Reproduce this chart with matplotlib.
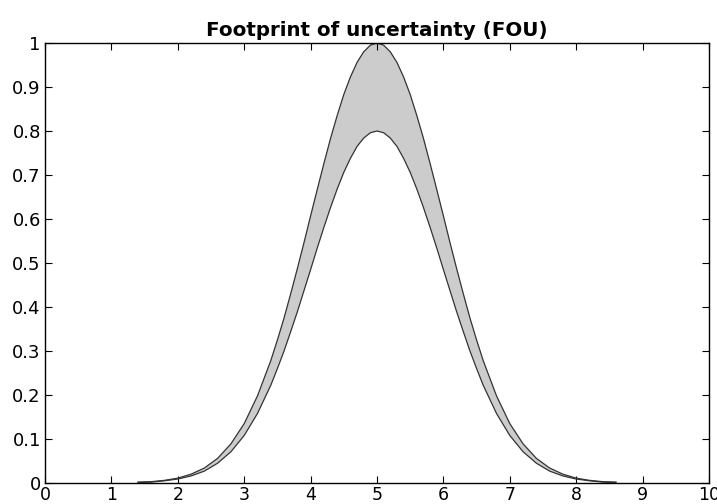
import matplotlib
matplotlib.use("Agg")
import matplotlib.pyplot as plt

plt.rcParams['font.family'] = ['DejaVu Sans']

# values (denser near the peak)
x = [1.4, 1.6, 1.8, 2.0, 2.2, 2.4, 2.6, 2.8, 3.0, 3.2, 3.4,
     3.5, 3.6, 3.7, 3.8, 3.9, 4.0, 4.1, 4.2, 4.3, 4.4, 4.5, 4.6, 4.7, 4.8, 4.9,
     5.0,
     5.1, 5.2, 5.3, 5.4, 5.5, 5.6, 5.7, 5.8, 5.9, 6.0, 6.1, 6.2, 6.3, 6.4, 6.5,
     6.6, 6.8, 7.0, 7.2, 7.4, 7.6, 7.8, 8.0, 8.2, 8.4, 8.6]
upper = [0.002, 0.003, 0.006, 0.011, 0.020, 0.034, 0.056, 0.089, 0.135, 0.198, 0.278,
         0.325, 0.375, 0.430, 0.487, 0.546, 0.607, 0.667, 0.726, 0.783, 0.835,
         0.883, 0.923, 0.956, 0.980, 0.995,
         1.000,
         0.995, 0.980, 0.956, 0.923, 0.883, 0.835, 0.783, 0.726, 0.667, 0.607,
         0.546, 0.487, 0.430, 0.375, 0.325,
         0.278, 0.198, 0.135, 0.089, 0.056, 0.034, 0.020, 0.011, 0.006, 0.003, 0.002]
lower = [0.001, 0.002, 0.005, 0.009, 0.016, 0.027, 0.045, 0.071, 0.108, 0.158, 0.222,
         0.260, 0.300, 0.344, 0.389, 0.437, 0.485, 0.534, 0.581, 0.626, 0.668,
         0.706, 0.738, 0.765, 0.784, 0.796,
         0.800,
         0.796, 0.784, 0.765, 0.738, 0.706, 0.668, 0.626, 0.581, 0.534, 0.485,
         0.437, 0.389, 0.344, 0.300, 0.260,
         0.222, 0.158, 0.108, 0.071, 0.045, 0.027, 0.016, 0.009, 0.005, 0.002, 0.001]

fig = plt.figure(figsize=(7.17, 5.04), dpi=100)
ax = fig.add_axes([0.0628, 0.0417, 0.926, 0.873])

ax.fill_between(x, lower, upper, facecolor='#cccccc', edgecolor='none')
ax.plot(x, upper, color='#333333', lw=0.9)
ax.plot(x, lower, color='#333333', lw=0.9)

ax.set_xlim(0, 10)
ax.set_ylim(0, 1)
ax.set_xticks(range(11))
ax.set_yticks([i / 10 for i in range(11)])
ax.set_yticklabels(['0', '0.1', '0.2', '0.3', '0.4', '0.5', '0.6', '0.7', '0.8', '0.9', '1'])
ax.tick_params(direction='in', length=5, width=0.8, top=True, right=True, labelsize=13)
ax.tick_params(axis='x', pad=2, labelsize=12.5)
ax.tick_params(axis='y', pad=3)
for s in ax.spines.values():
    s.set_linewidth(1.0)

ax.set_title('Footprint of uncertainty (FOU)', fontsize=14.3, fontweight='bold', pad=5)

fig.savefig('out.png', dpi=100)
